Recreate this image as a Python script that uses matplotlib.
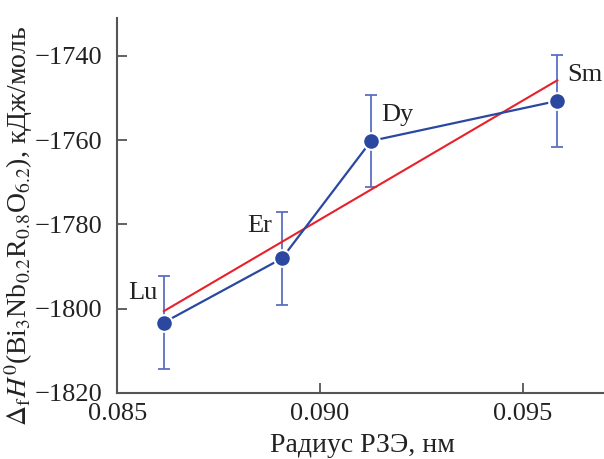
import numpy as np
import matplotlib
matplotlib.use('Agg')
import matplotlib.pyplot as plt

plt.rcParams['font.family'] = ['Liberation Serif', 'DejaVu Serif']
plt.rcParams['mathtext.fontset'] = 'stix'

elements = ['Lu', 'Er', 'Dy', 'Sm']
radius = np.array([0.08615, 0.08906, 0.09126, 0.09585])
enthalpy = np.array([-1803.3, -1788.1, -1760.2, -1750.7])
errors = np.array([11.0, 11.0, 11.0, 11.0])

label_offsets = [(-21, 30), (-22, 32), (26, 26), (28, 26)]

fig = plt.figure(figsize=(6.04, 4.59), dpi=100)
ax = fig.add_axes([0.194, 0.144, 0.806, 0.817])

# linear fit
k, b = np.polyfit(radius, enthalpy, 1)
ax.plot(radius[[0, -1]], k * radius[[0, -1]] + b, color='#e8202a', lw=1.5, zorder=2)

ax.errorbar(radius, enthalpy, yerr=errors, fmt='none', ecolor='#5a6fc0',
            elinewidth=1.3, capsize=4, capthick=1.3, zorder=1)
ax.plot(radius, enthalpy, '-o', color='#2a48a0', lw=1.6, ms=12,
        mec='white', mew=1.5, zorder=3)

for name, xv, yv, off in zip(elements, radius, enthalpy, label_offsets):
    ax.annotate(name, (xv, yv), xytext=off, textcoords='offset pixels',
                ha='center', va='center', fontsize=19, color='#222222')

ax.set_xlim(0.085, 0.097)
ax.set_ylim(-1820, -1731)
ax.set_xticks([0.085, 0.090, 0.095])
ax.set_xticklabels(['0.085', '0.090', '0.095'])
ax.set_yticks([-1820, -1800, -1780, -1760, -1740])

for s in ['top', 'right']:
    ax.spines[s].set_visible(False)
for s in ['left', 'bottom']:
    ax.spines[s].set_color('#555555')
    ax.spines[s].set_linewidth(1.5)
ax.tick_params(direction='in', length=7, width=1.3, color='#555555',
               labelsize=19, labelcolor='#222222')
ax.tick_params(axis='y', pad=11)
ax.tick_params(axis='x', pad=7)

ax.set_xlabel('Радиус РЗЭ, нм', fontsize=20, color='#222222', va='center')
ax.set_ylabel(r'$\Delta_{\rm f}H^0$(Bi$_3$Nb$_{0.2}$R$_{0.8}$O$_{6.2}$), кДж/моль',
              fontsize=20, color='#222222', va='center')
ax.xaxis.set_label_coords(0.503, -0.141)
ax.yaxis.set_label_coords(-0.203, 0.445)

fig.savefig('out.png', dpi=100)
